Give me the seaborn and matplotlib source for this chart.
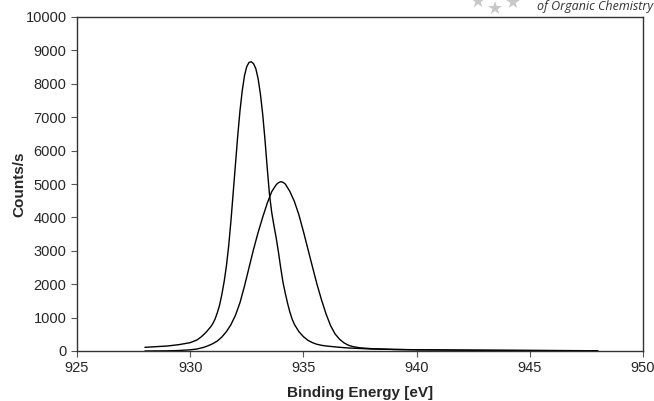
import numpy as np
import pandas as pd
import matplotlib
matplotlib.use("Agg")
import matplotlib.pyplot as plt
import seaborn as sns

# narrow component
energy_a = [928.0, 928.5, 929.0, 929.5, 930.0, 930.3, 930.5, 930.7, 930.9, 931.0,
            931.1, 931.2, 931.3, 931.4, 931.5, 931.6, 931.7, 931.8, 931.9, 932.0,
            932.1, 932.2, 932.3, 932.4, 932.5, 932.6, 932.7, 932.8, 932.9, 933.0,
            933.1, 933.2, 933.3, 933.4, 933.5, 933.6, 933.7, 933.8, 933.9, 934.0,
            934.1, 934.2, 934.3, 934.4, 934.5, 934.6, 934.8, 935.0, 935.2, 935.4,
            935.6, 935.8, 936.0, 936.3, 936.6, 937.0, 937.5, 938.0, 939.0, 940.0,
            942.0, 944.0, 946.0, 948.0]
counts_a = [110, 130, 150, 190, 250, 330, 430, 560, 720, 820,
            960, 1150, 1380, 1700, 2080, 2550, 3150, 3900, 4750, 5600,
            6450, 7200, 7800, 8250, 8520, 8640, 8660, 8600, 8450, 8150,
            7700, 7100, 6350, 5500, 4700, 4150, 3750, 3380, 2950, 2480,
            2050, 1730, 1430, 1170, 960, 800, 580, 430, 320, 250,
            200, 170, 150, 130, 110, 90, 75, 60, 45, 35,
            25, 18, 12, 8]

# broad component
energy_b = [928.0, 929.0, 929.5, 930.0, 930.3, 930.6, 930.8, 931.0, 931.2, 931.4,
            931.6, 931.8, 932.0, 932.2, 932.4, 932.6, 932.8, 933.0, 933.2, 933.4,
            933.6, 933.8, 933.9, 934.0, 934.1, 934.2, 934.4, 934.6, 934.8, 935.0,
            935.2, 935.4, 935.6, 935.8, 936.0, 936.2, 936.4, 936.6, 936.8, 937.0,
            937.2, 937.5, 938.0, 939.0, 940.0, 942.0, 944.0, 946.0, 948.0]
counts_b = [0, 5, 15, 35, 60, 110, 160, 220, 300, 420,
            580, 790, 1070, 1450, 1950, 2500, 3050, 3550, 4000, 4420,
            4770, 4980, 5040, 5070, 5050, 5000, 4780, 4480, 4080, 3580,
            3050, 2520, 2000, 1530, 1110, 760, 510, 350, 240, 170,
            130, 95, 70, 48, 37, 26, 19, 13, 8]

x_ticks = [925, 930, 935, 940, 945, 950]
y_ticks = list(range(0, 10001, 1000))

df_a = pd.DataFrame({"energy": energy_a, "counts": counts_a})
df_b = pd.DataFrame({"energy": energy_b, "counts": counts_b})

sns.set_style("white")
plt.rcParams['font.family'] = ['Liberation Sans', 'DejaVu Sans']

fig = plt.figure(figsize=(6.54, 4.01), dpi=100)
ax = fig.add_axes([77 / 654, 1 - 351 / 401, (643 - 77) / 654, (351 - 17) / 401])

sns.lineplot(data=df_a, x="energy", y="counts", ax=ax, color="black",
             linewidth=1.0, estimator=None)
sns.lineplot(data=df_b, x="energy", y="counts", ax=ax, color="black",
             linewidth=1.0, estimator=None)

ax.set_xlim(925, 950)
ax.set_ylim(0, 10000)
ax.set_xticks(x_ticks)
ax.set_yticks(y_ticks)
ax.tick_params(axis="both", labelsize=10.5, length=4, width=0.8, color="#555555",
               direction="out", left=True, bottom=True)
ax.set_xlabel("Binding Energy [eV]", fontsize=11, fontweight="bold")
ax.set_ylabel("Counts/s", fontsize=11, fontweight="bold")
ax.xaxis.set_label_coords(0.5, -0.105)
ax.yaxis.set_label_coords(-0.09, 0.5)
for s in ax.spines.values():
    s.set_color("#333333")
    s.set_linewidth(1.0)

# journal watermark in the top right corner
fig.text(0.999, 0.975, "of Organic Chemistry", ha="right", va="baseline", fontsize=9,
         style="italic", color="#333333", family=["Open Sans", "DejaVu Sans"])
for sx, sy in [(0.731, 0.995), (0.757, 0.978), (0.784, 0.993)]:
    fig.text(sx, sy, "\u2605", ha="center", va="center", fontsize=13,
             color="#c8c8c8", family=["DejaVu Sans"])

fig.savefig("out.png", dpi=100)
